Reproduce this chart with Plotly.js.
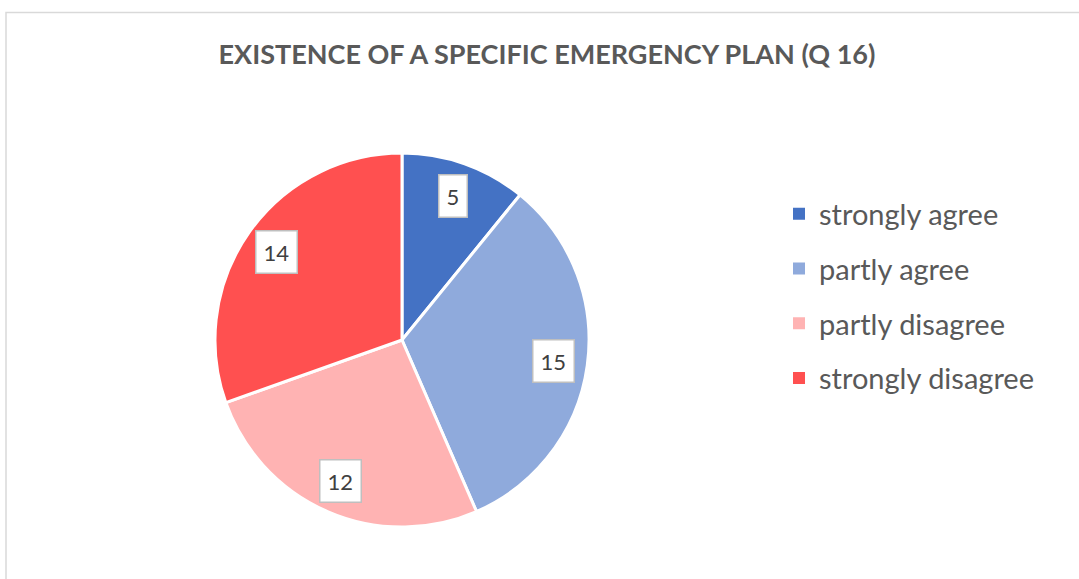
<!DOCTYPE html>
<html><head><meta charset="utf-8">
<script src="https://cdn.plot.ly/plotly-3.0.1.min.js"></script>
<style>html,body{margin:0;padding:0;background:#fff}#chart{width:1079px;height:579px}</style>
</head><body><div id="chart"></div>
<script>
const categories = ["strongly agree", "partly agree", "partly disagree", "strongly disagree"];
const counts = [5, 15, 12, 14];
const colors = ["#4472C4", "#8FAADC", "#FFB3B3", "#FF5050"];
const titleText = "EXISTENCE OF A SPECIFIC EMERGENCY PLAN (Q 16)";

const W = 1079, H = 579;
// pie placement (pixels)
const cx = 402, cy = 340, R = 187;
const dom = {x: [(cx - R) / W, (cx + R) / W], y: [1 - (cy + R) / H, 1 - (cy - R) / H]};

const total = counts.reduce((a, b) => a + b, 0);
let cum = 0;
const annotations = counts.map((v, i) => {
  const mid = (cum + v / 2) / total * 2 * Math.PI;
  cum += v;
  const f = 0.82;
  const px = cx + R * f * Math.sin(mid);
  const py = cy - R * f * Math.cos(mid);
  return {
    x: px / W, y: 1 - py / H, xref: "paper", yref: "paper",
    text: String(v), showarrow: false,
    font: {family: "Lato, 'Open Sans', sans-serif", size: 22, color: "#404040"},
    bgcolor: "#ffffff", bordercolor: "#BFBFBF", borderwidth: 1.5, borderpad: 7,
    xanchor: "center", yanchor: "middle"
  };
});

const traces = [{
  type: "pie", labels: categories, values: counts, sort: false,
  direction: "clockwise", rotation: 0, domain: dom,
  marker: {colors: colors, line: {color: "#ffffff", width: 3}},
  textinfo: "none", hoverinfo: "label+value", showlegend: false
}];
categories.forEach((c, i) => {
  traces.push({
    type: "scatter", mode: "markers", x: [null], y: [null], name: c,
    legendgroup: "g" + i, showlegend: true,
    marker: {symbol: "square", size: 12, color: colors[i]}
  });
});

const layout = {
  width: W, height: H,
  margin: {l: 0, r: 0, t: 0, b: 0},
  paper_bgcolor: "#ffffff", plot_bgcolor: "#ffffff",
  title: {text: "<b>" + titleText + "</b>", x: 547 / W, xanchor: "center", y: 1 - 55 / H, yanchor: "middle",
    font: {family: "Lato, 'Open Sans', sans-serif", size: 27, color: "#595959"}},
  xaxis: {visible: false, domain: [0.99, 1]}, yaxis: {visible: false, domain: [0.99, 1]},
  showlegend: true,
  legend: {x: 779 / W, xanchor: "left", y: 1 - 296 / H, yanchor: "middle",
    traceorder: "grouped", tracegroupgap: 14,
    font: {family: "Lato, 'Open Sans', sans-serif", size: 29, color: "#595959"},
    bgcolor: "rgba(0,0,0,0)"},
  annotations: annotations,
  shapes: [{type: "rect", xref: "paper", yref: "paper", x0: 6 / W, x1: 1.02, y0: -0.02, y1: 1 - 12.5 / H,
    line: {color: "#D9D9D9", width: 1.5}, fillcolor: "rgba(0,0,0,0)"}]
};

Plotly.newPlot("chart", traces, layout, {displayModeBar: false, staticPlot: true});
</script></body></html>
